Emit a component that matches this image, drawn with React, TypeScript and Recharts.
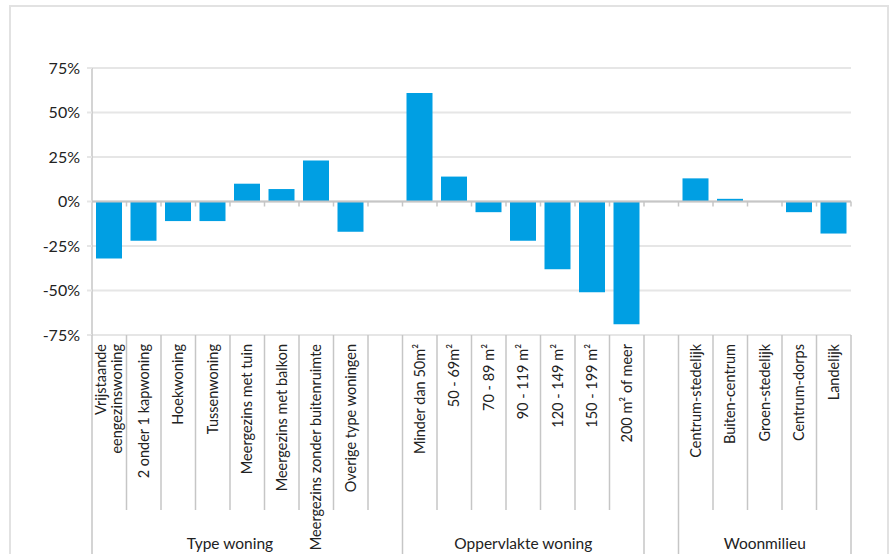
import { BarChart, Bar, XAxis, YAxis, CartesianGrid, ReferenceLine } from 'recharts';

const categories = [
  'Vrijstaande eengezinswoning',
  '2 onder 1 kapwoning',
  'Hoekwoning',
  'Tussenwoning',
  'Meergezins met tuin',
  'Meergezins met balkon',
  'Meergezins zonder buitenruimte',
  'Overige type woningen',
  '',
  'Minder dan 50m²',
  '50 - 69m²',
  '70 - 89 m²',
  '90 - 119 m²',
  '120 - 149 m²',
  '150 - 199 m²',
  '200 m² of meer',
  '',
  'Centrum-stedelijk',
  'Buiten-centrum',
  'Groen-stedelijk',
  'Centrum-dorps',
  'Landelijk',
];

const values = [
  -32, -22, -11, -11, 10, 7, 23, -17, null,
  61, 14, -6, -22, -38, -51, -69, null,
  13, 1.5, 0, -6, -18,
];

// group name, first slot, number of slots
const groups: [string, number, number][] = [
  ['Type woning', 0, 8],
  ['Oppervlakte woning', 9, 7],
  ['Woonmilieu', 17, 5],
];

// slot boundaries whose divider runs to the bottom edge
const longDividers = [0, 9, 16, 17, 22];

const yTicks = [-75, -50, -25, 0, 25, 50, 75];

const data = categories.map((name, i) => ({ key: i, name, value: values[i] }));

const W = 889;
const H = 554;
const MARGIN = { top: 68, right: 38, bottom: 0, left: 0 };
const Y_W = 92;
const X_H = 219;
const SLOT = (W - MARGIN.left - MARGIN.right - Y_W) / categories.length;

const FONT = 'Lato, "Open Sans", sans-serif';
const BLUE = '#009fe3';
const GRID = '#e6e6e6';
const AXIS = '#c6c6c6';

const CategoryTick = (props: any) => {
  const { x, y, payload } = props;
  const i = payload.value as number;
  const label = categories[i];
  const left = x - SLOT / 2;
  const lines = label === 'Vrijstaande eengezinswoning' ? ['Vrijstaande', 'eengezinswoning'] : [label];
  const group = groups.find((g) => g[1] === i);
  const isLast = i === categories.length - 1;
  return (
    <g>
      <line
        x1={left}
        x2={left}
        y1={y}
        y2={longDividers.includes(i) ? H : 510}
        stroke={AXIS}
        strokeWidth={1.5}
      />
      {isLast && (
        <line
          x1={left + SLOT}
          x2={left + SLOT}
          y1={y}
          y2={longDividers.includes(i + 1) ? H : 510}
          stroke={AXIS}
          strokeWidth={1.5}
        />
      )}
      {label && (
        <text
          transform={`translate(${x},${y + 9}) rotate(-90)`}
          textAnchor="end"
          fontSize={14.5}
          fontFamily={FONT}
          fill="#222"
        >
          {lines.length === 1 ? (
            <tspan x={0} y={5}>{lines[0]}</tspan>
          ) : (
            lines.map((l, k) => (
              <tspan key={k} x={0} y={-3 + k * 16}>
                {l}
              </tspan>
            ))
          )}
        </text>
      )}
      {group && (
        <text
          x={left + (group[2] * SLOT) / 2}
          y={543}
          textAnchor="middle"
          dominantBaseline="central"
          fontSize={15.5}
          fontFamily={FONT}
          fill="#222"
        >
          {group[0]}
        </text>
      )}
    </g>
  );
};

const ZeroLine = (props: any) => {
  const { x1, x2, y1 } = props;
  const step = (x2 - x1) / categories.length;
  return (
    <g>
      <line x1={x1} x2={x2} y1={y1} y2={y1} stroke={AXIS} strokeWidth={2} />
      {categories.map((_, k) => (
        <line
          key={k}
          x1={x1 + (k + 1) * step}
          x2={x1 + (k + 1) * step}
          y1={y1}
          y2={y1 + 5}
          stroke={AXIS}
          strokeWidth={1.5}
        />
      ))}
    </g>
  );
};

export default function App() {
  return (
    <div
      style={{
        position: 'absolute',
        left: 0,
        top: 0,
        width: W,
        height: H,
        overflow: 'hidden',
        background: '#fff',
        fontFamily: FONT,
      }}
    >
      <div
        style={{
          position: 'absolute',
          left: 9,
          top: 5,
          width: 876,
          height: 600,
          border: '2px solid #e2e2e2',
        }}
      />
      <div style={{ position: 'absolute', left: 0, top: 0 }}>
        <BarChart width={W} height={H} data={data} margin={MARGIN} barSize={26}>
          <CartesianGrid vertical={false} stroke={GRID} strokeWidth={2} />
          <XAxis
            dataKey="key"
            type="category"
            height={X_H}
            interval={0}
            tickLine={false}
            tickSize={0}
            tickMargin={0}
            axisLine={false}
            tick={<CategoryTick />}
          />
          <YAxis
            width={Y_W}
            domain={[-75, 75]}
            ticks={yTicks}
            interval={0}
            tickFormatter={(v) => `${v}%`}
            axisLine={{ stroke: AXIS, strokeWidth: 1.5 }}
            tickLine={{ stroke: GRID, strokeWidth: 2 }}
            tickSize={5}
            tickMargin={7}
            tick={{ fill: '#222', fontSize: 16, fontFamily: FONT }}
          />
          <ReferenceLine y={0} shape={<ZeroLine />} />
          <Bar dataKey="value" fill={BLUE} isAnimationActive={false} />
        </BarChart>
      </div>
    </div>
  );
}
